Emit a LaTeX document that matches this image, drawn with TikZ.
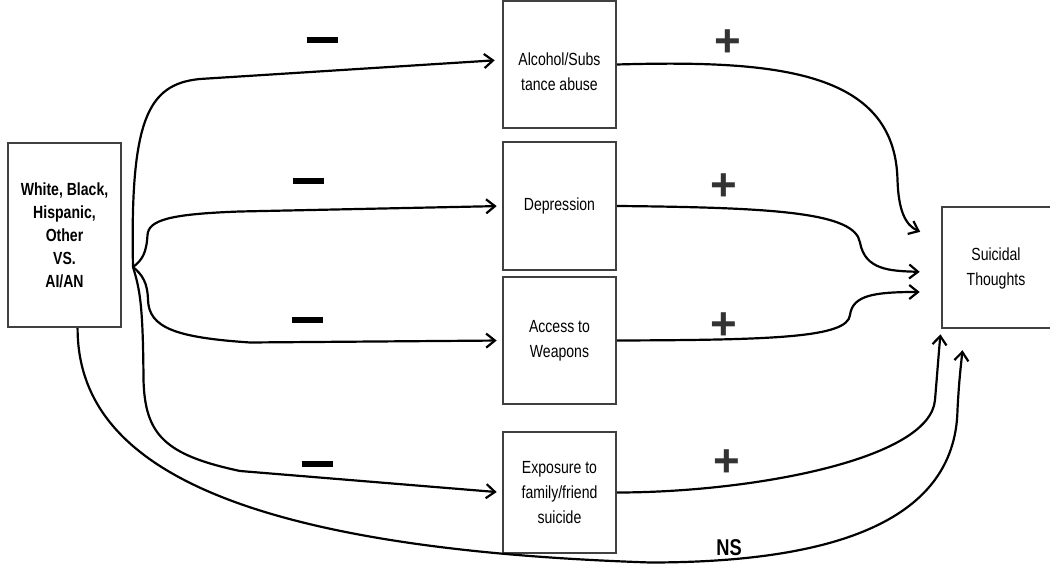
\documentclass[tikz,border=0pt]{standalone}
\usepackage{fontspec}
\setmainfont[FakeStretch=0.8]{Liberation Sans}
\newfontfamily\signfont{Liberation Sans}
\usetikzlibrary{arrows.meta}
\def\minusbar{\rule{0.62cm}{0.13cm}}

\begin{document}
\begin{tikzpicture}[
	box/.style={draw=black!75, line width=1.2pt, minimum width=2.26cm, align=center, inner sep=0pt, font=\fontsize{10}{14.2}\selectfont},
	conn/.style={line width=1.25pt, -{Straight Barb[length=5pt,width=8pt]}, shorten >=3pt},
	minus/.style={inner sep=0pt},
	plus/.style={inner sep=0pt, text=black!80, font=\signfont\bfseries\fontsize{26}{26}\selectfont}
	]
		%%%%% START %%%%%
		\useasboundingbox (0,0) rectangle (21,11.4);
		
		\node[box, minimum height=3.68cm, font=\fontsize{10}{13.1}\selectfont\bfseries] (grp) at (1.29,6.70) {White, Black,\\Hispanic,\\Other\\VS.\\AI/AN};
		
		\node[box, minimum height=2.54cm] (alc) at (11.19,10.11) {};
		\node[align=center, inner sep=0pt, font=\fontsize{10}{14.2}\selectfont] (alc-text) at (11.19,9.96) {Alcohol/Subs\\tance abuse};
		\node[box, minimum height=2.56cm] (dep) at (11.19,7.28) {Depression};
		\node[box, minimum height=2.54cm] (acc) at (11.19,4.59) {Access to\\Weapons};
		\node[box, minimum height=2.42cm] (expo) at (11.19,1.55) {Exposure to\\family/friend\\suicide};
		
		\node[box, minimum width=2.3cm, minimum height=2.42cm] (suic) at (19.99,6.05) {};
		\node[align=center, inner sep=0pt, font=\fontsize{10}{14.2}\selectfont] (suic-text) at (19.92,6.04) {Suicidal\\Thoughts};
		
		\coordinate (br) at (2.66,6.06);
		\coordinate (alc-in) at (10.0,10.2);
		\coordinate (a1) at (18.5,6.72);
		\coordinate (a2) at (18.5,5.96);
		\coordinate (a3) at (18.5,5.56);
		\coordinate (ns) at (19.26,4.5);
		
		% left side
		\draw[conn] (br) .. controls (2.6,9.0) and (2.95,9.72) .. (4.0,9.82) -- (alc-in);
		\draw[conn] (br) .. controls (2.85,6.2) and (2.93,6.35) .. (2.95,6.7) .. controls (2.97,7.0) and (3.4,7.12) .. (4.8,7.17) -- (dep.west);
		\draw[conn] (br) .. controls (2.85,5.9) and (2.95,5.75) .. (2.96,5.4) .. controls (2.98,4.85) and (3.5,4.65) .. (5.0,4.55) -- (acc.west);
		\draw[conn] (br) .. controls (2.8,5.6) and (2.86,5.3) .. (2.87,3.8) .. controls (2.9,2.7) and (3.3,2.3) .. (4.8,1.98) -- (expo.west);
		
		% right side
		\draw[conn] (alc.east) .. controls (15.5,10.2) and (17.9,10.0) .. (17.95,7.8) .. controls (17.97,7.2) and (18.1,6.9) .. (a1);
		\draw[conn] (dep.east) .. controls (15.5,7.25) and (17.1,7.15) .. (17.2,6.55) .. controls (17.3,6.0) and (17.8,5.98) .. (a2);
		\draw[conn] (acc.east) .. controls (15.5,4.6) and (16.95,4.65) .. (17.0,5.1) .. controls (17.05,5.5) and (17.5,5.56) .. (a3);
		\draw[conn] (expo.east) .. controls (15,1.55) and (18.6,2.2) .. (18.7,3.4) .. controls (18.75,4.0) and (18.78,4.4) .. (suic.south west);
		
		% direct path
		\draw[conn] (grp.278) .. controls (1.55,2.4) and (4.0,0.45) .. (13,0.15) .. controls (16.5,0.15) and (19.1,0.9) .. (19.15,3.2) .. controls (19.18,3.8) and (19.22,4.1) .. (ns);
		
		% signs
		\node[minus] (m1) at (6.44,10.6) {\minusbar};
		\node[minus] (m2) at (6.16,7.78) {\minusbar};
		\node[minus] (m3) at (6.14,5.0) {\minusbar};
		\node[minus] (m4) at (6.34,2.12) {\minusbar};
		
		\node[plus] (p1) at (14.56,10.54) {+};
		\node[plus] (p2) at (14.48,7.66) {+};
		\node[plus] (p3) at (14.48,4.88) {+};
		\node[plus] (p4) at (14.54,2.14) {+};
		
		\node[inner sep=0pt, font=\fontsize{13}{13}\selectfont\bfseries] (nslabel) at (14.58,0.44) {NS};
		
		%%%%% END %%%%%
\end{tikzpicture}
\end{document}
